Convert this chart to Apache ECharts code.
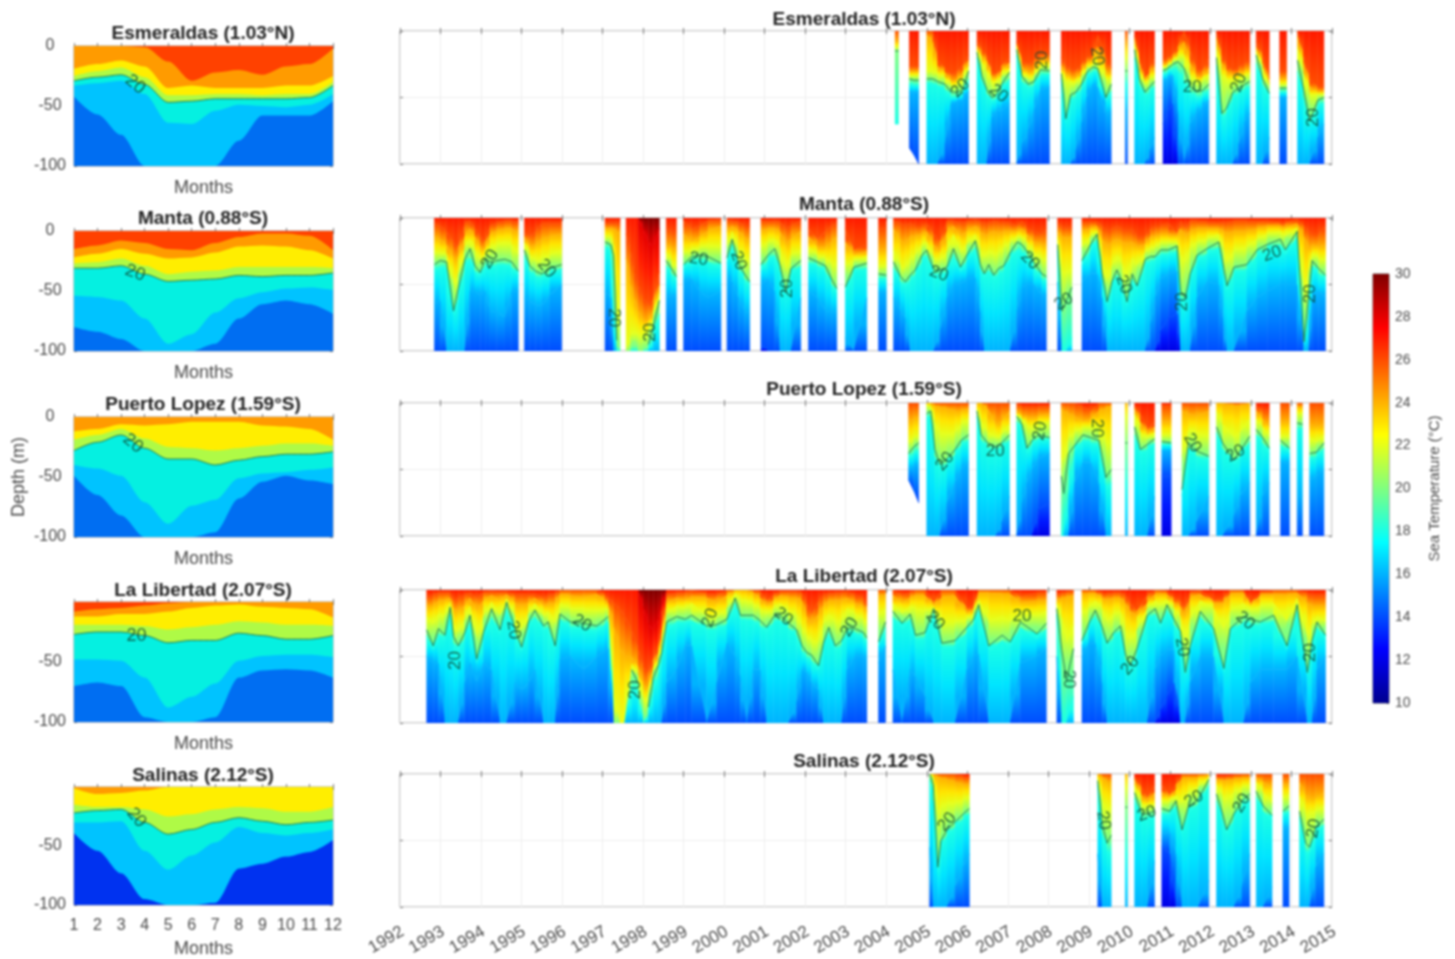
<!DOCTYPE html>
<html><head><meta charset="utf-8">
<style>html,body{margin:0;padding:0;background:#fff}#c{width:1455px;height:959px;filter:blur(0.8px)}</style>
<script src="https://cdn.jsdelivr.net/npm/echarts@6/dist/echarts.min.js"></script>
</head><body><div id="c"></div>
<script>
// Row layout: [time, d26, d24, d22, d20, d18, d16, d14?, d28?, lastDepth?] depths (m) of each isotherm. [time] alone = data gap.
const stationNames = ['Esmeraldas (1.03°N)','Manta (0.88°S)','Puerto Lopez (1.59°S)','La Libertad (2.07°S)','Salinas (2.12°S)'];
const yearTicks = [1992,2015];
const monthTicks = [1,12];
const depthTicks = [-100,0];
const colorbarTicks = [10,30];

const esmSection = [
[2004.22,0,8,12,15,70,70,100,0,70],[2004.30,0,8,12,15,70,70,100,0,70],[2004.4],
[2004.57,26,30,33,36,40,46,100,0,88],[2004.68,27,31,34,37,41,46,100,0,93],[2004.80,26,30,33,37,41,46],[2004.9],
[2005.00,0,3,30,36,39,100],[2005.15,0,8,30,36,40,100],[2005.27,22,27,32,38,41,100],[2005.45,28,31,35,40,44,85],[2005.6,33,38,41,46,50,55],[2005.75,30,37,41,46,50,53],[2005.9,26,31,36,44,47,52],[2006.03,18,22,26,30,36,45],[2006.1],
[2006.24,8,11,14,16,20,100],[2006.36,14,19,24,34,37,100],[2006.48,18,22,30,44,47,100],[2006.60,30,34,38,50,53,65],[2006.72,33,36,40,48,51,60],[2006.85,26,30,34,40,45,60],[2007.04,20,24,28,31,36,55],[2007.1],
[2007.22,8,10,12,14,18,100],[2007.35,22,27,31,34,38,85],[2007.5,25,32,36,40,44,75],[2007.65,22,30,34,38,41,60],[2007.8,16,22,26,29,33,45],[2008.03,18,23,26,30,33,42],[2008.2],
[2008.32,20,26,30,32,36,100],[2008.43,26,32,38,66,70,100],[2008.55,28,34,38,48,52,100],[2008.68,30,36,40,46,50,90],[2008.82,25,30,34,40,44,70],[2008.95,20,24,28,31,35,50],[2009.1,18,22,25,27,30,40],[2009.22,3,12,24,28,31,42],[2009.42,20,30,36,50,53,64],[2009.55,28,33,36,40,45,60],[2009.7],
[2009.90,0,10,20,30,40,60],[2009.95,0,10,20,30,40,60],[2010.0],
[2010.13,3,6,10,14,20,100],[2010.25,20,24,30,36,40,100],[2010.38,36,38,41,46,50,100],[2010.5,28,32,36,42,46,90],[2010.62,20,27,33,38,42,80],[2010.7],
[2010.83,22,26,28,30,33,38,70],[2010.95,20,24,26,28,31,36,60],[2011.07,18,21,23,25,28,33,55],[2011.2,12,16,19,23,30,60],[2011.35,0,8,18,28,38,100],[2011.5,14,24,33,42,46,70],[2011.65,28,34,38,45,50,62],[2011.8,30,35,38,45,50,58],[2011.96,20,28,32,40,44,52],[2012.05],
[2012.15,0,5,12,20,26,100],[2012.28,18,24,33,62,66,100],[2012.4,25,30,36,58,62,100],[2012.55,30,34,38,46,50,100],[2012.7,27,32,36,43,47,85],[2012.85,24,30,34,40,44,68],[2012.97,22,28,32,38,42,62],[2013.05],
[2013.13,8,12,15,18,24,100],[2013.29,18,24,28,36,40,100],[2013.45,36,40,43,47,50,80],[2013.6],
[2013.71,30,36,40,43,46,50],[2013.88,30,36,40,43,46,50],[2014.0],
[2014.15,0,4,12,22,30,100],[2014.3,18,24,32,44,50,100],[2014.45,36,42,48,68,72,100],[2014.65,42,46,48,52,56,80],[2014.8,42,45,47,50,54,70]
];
const mantaSection = [
[1992.85,4,14,26,35,40,65],[1992.99,6,16,26,32,37,62],[1993.15,10,20,27,33,38,100],[1993.32,18,30,50,70,74,100],[1993.44,22,30,44,53,60,100],[1993.6,4,14,22,31,38,100],[1993.73,2,8,16,23,30,55],[1993.85,8,14,24,36,40,55],[1993.98,14,22,32,41,44,58],[1994.1,18,24,28,31,36,55],[1994.22,6,12,22,33,37,70],[1994.39,4,10,20,32,36,70],[1994.59,2,8,18,31,35,75],[1994.76,2,8,20,33,37,55],[1994.92,4,12,28,40,43,55],[1995.0],
[1995.07,10,14,18,24,28,60],[1995.2,14,22,28,36,40,62],[1995.35,10,20,32,40,44,66],[1995.5,4,16,30,42,46,66],[1995.7,4,14,28,38,42,58],[1995.99,4,12,24,35,38,50],[1996.5],
[1997.06,4,8,14,18,22,55],[1997.2,4,8,14,20,24,60],[1997.27,4,8,20,28,70,100],[1997.35,4,10,60,92,100,100],[1997.43,4,12,80,100,100,100],[1997.5],
[1997.58,12,30,100,100,100,100],[1997.69,24,50,88,100,100,100],[1997.78,40,60,85,92,100,100],[1997.88,50,70,88,100,100,100],[1998.0,60,76,88,100,100,100,100,8],[1998.13,65,78,85,95,100,100,100,18],[1998.25,62,70,76,82,92,100,100,22],[1998.40,40,50,56,62,72,100,100,8],[1998.48],
[1998.57,8,20,26,32,36,60],[1998.7,10,22,32,38,42,58],[1998.82,10,24,38,44,48,60],[1998.9],
[1999.0,2,12,26,35,38,48],[1999.2,8,18,24,29,32,46],[1999.4,6,14,22,28,32,55],[1999.6,2,10,20,29,33,60],[1999.92,1,6,22,34,38,55],[2000.0],
[2000.07,2,10,22,30,34,45],[2000.2,2,6,10,16,20,48],[2000.35,3,10,24,34,38,60],[2000.5,6,14,28,42,46,70],[2000.63,6,18,34,48,52,72],[2000.8],
[2000.91,2,10,22,35,40,50,95],[2001.08,3,8,18,28,32,46],[2001.25,2,8,16,23,28,55],[2001.38,3,10,22,36,40,100],[2001.52,8,20,40,56,60,100],[2001.65,6,16,28,38,42,100],[2001.89,2,10,24,32,36,60],[2002.0],
[2002.08,8,14,22,30,34,55],[2002.3,16,22,28,33,36,60],[2002.5,10,22,30,36,40,70],[2002.65,6,18,34,46,50,70],[2002.78,4,14,36,53,57,72],[2002.9],
[2002.99,8,18,36,52,56,90],[2003.2,24,28,32,37,40,100],[2003.52,20,25,29,34,38,60],[2003.65],
[2003.81,8,24,36,42,46,56],[2004.0,8,24,36,43,46,56],[2004.08],
[2004.18,2,8,24,33,37,60],[2004.35,4,16,36,44,48,70],[2004.47,6,20,38,48,52,75],[2004.59,4,14,30,43,47,100],[2004.72,6,14,28,39,43,100],[2004.88,6,12,20,28,33,100],[2005.0,4,10,18,24,28,100],[2005.17,12,20,30,39,43,100],[2005.33,18,26,32,39,43,85],[2005.5,2,10,26,37,41,60],[2005.66,2,6,12,23,27,50],[2005.83,4,14,26,37,41,50],[2005.99,3,10,20,28,32,46],[2006.2,1,6,12,17,22,45],[2006.32,3,10,24,35,38,70],[2006.42,4,14,30,42,46,100],[2006.53,4,12,24,35,39,100],[2006.65,2,10,28,43,47,100],[2006.77,3,12,26,38,42,100],[2006.9,3,10,22,36,40,100],[2007.06,4,10,18,26,30,100],[2007.23,6,10,14,18,24,70],[2007.35,2,8,14,20,26,52],[2007.47,8,12,18,25,28,50],[2007.64,10,18,26,33,37,50],[2007.84,12,20,30,42,46,58],[2007.95,8,20,32,44,48,58],[2008.1],
[2008.23,4,10,14,20,24,48],[2008.33,6,14,40,70,100,100],[2008.45,8,16,42,62,100,100],[2008.58,6,14,38,52,90,100],[2008.7],
[2008.83,3,10,22,32,36,48],[2009.04,3,8,14,20,24,42],[2009.2,3,6,9,12,16,42],[2009.33,6,16,34,42,46,60],[2009.45,10,22,48,63,67,100],[2009.57,8,18,36,48,52,100],[2009.69,6,16,28,39,43,100],[2009.82,8,18,34,48,52,100],[2009.94,10,20,46,63,67,100],[2010.07,8,18,30,42,46,100],[2010.19,14,22,36,51,55,100],[2010.39,14,20,26,31,35,100],[2010.52,8,14,22,29,33,80],[2010.64,6,14,22,29,32,60],[2010.77,6,12,18,24,27,46,85],[2010.97,4,12,18,24,28,42,75],[2011.18,12,14,18,21,25,40,72],[2011.26,2,8,28,55,60,100],[2011.38,8,14,34,60,64,100],[2011.5,2,10,22,42,46,100],[2011.67,2,8,18,28,32,60],[2011.92,3,8,16,23,27,48],[2012.21,4,8,12,18,22,50],[2012.33,3,10,24,38,42,80],[2012.41,4,12,34,51,55,100],[2012.58,2,10,24,37,41,100],[2012.9,2,10,22,35,39,70],[2013.15,3,8,16,24,28,60],[2013.4,2,6,12,20,24,55],[2013.73,4,6,10,16,20,50],[2013.85,4,8,14,24,28,50],[2014.14,1,4,7,10,14,50],[2014.31,6,14,60,93,100,100],[2014.43,10,24,40,56,70,100],[2014.51,12,20,26,32,36,60],[2014.67,12,22,30,38,42,55],[2014.84,6,20,32,43,47,60]
];
const lopezSection = [
[2004.55,0,14,30,38,42,50,100,0,58],[2004.68,0,12,26,33,38,48,100,0,66],[2004.80,0,10,24,30,36,46,100,0,75],[2004.9],
[2005.0,0,0,2,8,12,100],[2005.1,0,0,2,6,10,100],[2005.2,0,2,15,35,40,100],[2005.32,0,3,22,46,50,100],[2005.5,0,4,24,42,46,75],[2005.7,0,6,22,35,39,60],[2005.85,0,6,16,28,32,50],[2006.03,0,4,12,24,28,45],[2006.1],
[2006.24,0,0,4,6,10,100],[2006.34,0,0,14,24,28,100],[2006.5,0,4,22,30,34,100],[2006.7,0,16,26,33,36,100],[2006.85,0,14,24,30,34,90],[2007.04,0,6,16,24,28,70],[2007.1],
[2007.22,0,5,8,10,14,100],[2007.35,3,10,12,16,20,75],[2007.47,3,10,16,34,38,60],[2007.6,3,12,20,28,31,50],[2007.75,3,10,16,24,27,42,80],[2008.03,2,8,14,26,28,38,75],[2008.2],
[2008.32,0,4,40,55,100,100],[2008.38,0,6,44,68,100,100],[2008.5,0,8,26,38,70,100],[2008.65,0,10,22,32,36,60],[2008.85,3,14,18,24,28,45],[2009.05,6,12,18,26,30,45],[2009.25,0,6,18,28,32,60],[2009.42,0,4,30,56,65,100],[2009.55,0,2,30,50,60,100],[2009.7],
[2009.90,0,0,10,30,60,100],[2009.95,0,0,10,30,60,100],[2010.0],
[2010.13,2,4,8,18,24,100],[2010.27,8,14,22,35,38,100],[2010.45,20,24,27,31,35,100],[2010.62,14,18,22,27,30,70],[2010.7],
[2010.8,2,14,24,29,31,36,55],[2011.03,2,14,24,30,32,36,55],[2011.15],
[2011.3,0,6,40,65,70,100],[2011.46,0,8,20,30,34,100],[2011.65,0,10,22,36,40,90],[2011.96,0,6,26,40,44,70],[2012.05],
[2012.15,0,0,6,18,22,100],[2012.3,0,0,16,30,34,100],[2012.58,0,2,26,43,46,85],[2012.74,0,2,22,36,40,70],[2012.97,0,0,12,25,29,60],[2013.05],
[2013.13,3,6,12,20,24,100],[2013.29,5,12,18,26,30,70],[2013.45,6,18,26,34,38,60],[2013.6],
[2013.73,0,14,24,28,31,44],[2013.95,0,14,26,34,38,46],[2014.05],
[2014.14,0,3,8,15,20,70],[2014.27,0,3,8,16,20,70],[2014.35],
[2014.45,0,16,26,38,42,58],[2014.62,0,18,30,37,41,55],[2014.8,0,16,24,30,34,50]
];
const libertadSection = [
[1992.66,6,12,20,30,34,50],[1992.82,4,12,26,42,46,55],[1992.95,2,8,18,29,33,55],[1993.11,2,8,20,34,38,100],[1993.24,2,6,9,13,18,100],[1993.32,8,14,26,35,40,100],[1993.44,6,16,32,42,46,100],[1993.6,4,12,22,32,36,70],[1993.73,2,6,12,19,24,55],[1993.89,6,16,36,52,56,70],[1994.06,2,8,20,32,36,55],[1994.26,1,4,9,14,20,60],[1994.47,2,8,20,30,34,100],[1994.63,1,3,6,9,14,100],[1994.84,4,10,20,29,33,70],[1995.0,3,12,30,43,47,75],[1995.17,4,10,18,24,28,70],[1995.33,3,6,10,15,20,60],[1995.54,6,12,20,27,31,100],[1995.66,4,10,16,24,28,100],[1995.83,3,10,26,42,46,100],[1995.95,0,3,10,18,22,52],[1996.2,0,4,14,24,28,50],[1996.53,0,6,14,25,29,60],[1996.86,0,3,16,27,31,50],[1997.06,4,8,14,22,26,46],[1997.14,6,10,14,20,24,44],[1997.28,10,28,80,100,100,100],[1997.43,14,44,100,100,100,100],[1997.55,20,50,100,100,100,100],[1997.72,30,50,56,60,72,100],[1997.88,44,58,64,70,80,100],[1998.01,58,72,85,100,100,100,100,14],[1998.13,62,74,80,88,95,100,100,26],[1998.25,52,58,62,66,75,100,100,30],[1998.38,42,47,52,56,64,100,100,22],[1998.46,30,36,42,47,52,100,100,14],[1998.58,4,10,18,24,30,70],[1998.83,2,6,12,20,24,60],[1999.04,2,8,14,22,25,42],[1999.2,0,5,10,19,23,42],[1999.57,3,6,20,27,30,100],[1999.82,4,10,20,26,30,70],[2000.07,0,4,14,22,26,40],[2000.27,0,0,2,6,10,50],[2000.4,0,0,8,19,22,65],[2000.56,0,0,8,19,23,100],[2000.72,0,2,10,19,23,60],[2000.89,1,6,14,23,27,60],[2001.05,8,12,18,28,32,100],[2001.22,4,8,14,20,24,100],[2001.38,1,4,10,19,23,100],[2001.59,1,6,16,25,29,100],[2001.79,1,6,18,30,34,85],[2001.92,2,8,28,42,46,60],[2002.04,10,20,34,47,51,62],[2002.16,18,26,38,49,53,70],[2002.33,8,18,40,57,61,75],[2002.45,4,12,26,40,44,100],[2002.58,3,8,18,28,32,100],[2002.74,2,8,24,42,46,100],[2002.9,2,8,24,38,42,100],[2003.03,1,6,14,29,32,60],[2003.23,4,10,18,29,32,50],[2003.44,6,12,22,32,36,50],[2003.52,12,16,26,36,40,52],[2003.65],
[2003.81,0,4,20,39,43,55],[2003.98,0,4,14,24,28,42],[2004.08],
[2004.165,0,4,10,16,20,60],[2004.39,4,10,18,25,29,100],[2004.59,2,6,12,18,22,60],[2004.72,0,4,14,34,38,65],[2004.96,0,4,16,32,36,80],[2005.17,10,12,13,14,18,100],[2005.37,0,6,24,40,44,100],[2005.7,0,4,24,38,42,100],[2005.99,14,18,22,28,32,60],[2006.16,12,14,18,22,26,50],[2006.28,0,2,7,11,15,48],[2006.53,0,2,24,42,46,100],[2006.86,0,3,20,34,38,100],[2007.06,0,3,24,39,43,100],[2007.31,5,10,16,24,28,55],[2007.72,2,8,20,33,37,50],[2007.95,2,8,16,25,29,44],[2008.1],
[2008.21,4,8,10,14,18,50],[2008.33,2,6,20,45,100,100],[2008.45,2,6,40,68,100,100],[2008.62,0,4,26,44,80,100],[2008.72],
[2008.83,0,3,18,38,42,50],[2009.0,0,3,14,25,28,40],[2009.16,0,2,8,15,19,40],[2009.33,3,6,14,28,32,70],[2009.45,3,8,24,40,44,100],[2009.61,2,6,18,32,36,100],[2009.78,2,6,16,27,31,100],[2009.9,4,10,30,48,52,100],[2010.02,10,16,38,57,61,100],[2010.19,16,20,30,44,48,100],[2010.44,4,10,14,19,23,100],[2010.64,0,3,8,14,18,60],[2010.77,0,3,12,25,29,50,90],[2010.93,1,3,7,11,15,45,80],[2011.1,6,10,14,22,26,45,70],[2011.26,8,12,20,31,35,100],[2011.38,14,22,40,62,66,100],[2011.5,2,6,22,42,46,70],[2011.75,0,3,8,16,20,50],[2012.08,8,10,14,29,33,50],[2012.33,6,10,30,59,63,100],[2012.49,0,3,16,29,33,100],[2012.82,0,2,10,20,24,100],[2012.99,10,12,16,22,26,70],[2013.23,2,4,12,24,28,60],[2013.56,0,3,10,19,23,60],[2013.89,0,4,24,42,46,60],[2014.14,0,2,6,11,16,50],[2014.39,3,10,36,62,66,100],[2014.51,4,12,26,38,42,100],[2014.63,4,12,20,24,28,60],[2014.84,4,12,24,34,38,50]
];
const salinasSection = [
[2005.07,0,0,0,0,4,55],[2005.16,0,0,2,8,20,100],[2005.27,0,2,30,70,76,100],[2005.35,0,3,25,50,56,100],[2005.5,0,4,22,42,46,100],[2005.7,0,6,22,36,40,85],[2005.9,2,8,20,30,34,70],[2006.05,3,8,16,26,30,60],[2007.5],
[2009.22,0,0,2,5,8,60],[2009.33,0,2,20,38,44,100],[2009.45,0,6,28,52,58,100],[2009.55,0,6,24,46,60,100],[2009.7],
[2009.90,0,0,10,25,60,100],[2009.95,0,0,10,25,60,100],[2010.0],
[2010.13,2,4,8,14,18,100],[2010.3,10,16,22,30,34,100],[2010.45,18,22,26,30,34,100],[2010.62,8,14,22,28,32,65],[2010.7],
[2010.8,8,14,20,26,30,45,55],[2011.0,16,18,21,28,31,44,60],[2011.15,8,12,16,20,24,60],[2011.3,0,3,22,42,46,100],[2011.45,0,3,14,25,29,100],[2011.7,0,3,10,19,23,100],[2011.96,0,0,2,4,8,80],[2012.05],
[2012.15,2,4,8,15,20,100],[2012.3,2,5,16,30,34,100],[2012.4,2,5,20,42,46,100],[2012.58,1,4,14,30,34,100],[2012.78,0,3,10,20,24,85],[2012.97,0,3,8,15,20,60],[2013.05],
[2013.13,0,3,6,13,17,100],[2013.3,0,6,14,24,28,100],[2013.52,0,10,22,31,35,85],[2013.65],
[2013.79,0,8,18,28,31,42],[2013.94,0,8,16,24,28,40],[2014.05],
[2014.2,0,6,16,28,32,100],[2014.35,0,16,30,52,58,100],[2014.45,0,18,30,55,60,100],[2014.6,0,18,28,40,44,70],[2014.8,0,14,24,34,38,60]
];

const esmClim = [[1,0,19,25,29,33,42],[2,0,15,21,26,31,57],[3,0,12,18,24,29,74],[4,1,17,26,32,40,100],[5,13,35,41,47,64,100],[6,29,33,41,46,65,100],[7,22,35,40,44,54,100],[8,20,35,40,44,49,79],[9,24,35,41,44,50,58],[10,17,33,40,44,51,58],[11,15,33,40,43,49,58],[12,2,25,30,33,40,46]];
const mantaClim = [[1,15,22,27,31,54,80],[2,12,19,26,31,55,84],[3,8,15,23,29,58,90],[4,10,19,29,36,73,100],[5,15,23,36,42,94,100],[6,16,22,34,41,86,100],[7,10,18,33,40,68,94],[8,5,13,30,37,56,73],[9,2,12,30,38,51,61],[10,2,13,30,37,48,58],[11,4,16,30,37,47,61],[12,16,23,31,35,49,69]];
const lopezClim = [[1,0,12,19,28,40,49],[2,0,10,15,21,43,65],[3,0,6,10,15,49,82],[4,0,7,18,26,71,100],[5,0,6,25,35,89,100],[6,0,4,26,35,74,100],[7,0,4,28,40,69,96],[8,0,4,26,36,51,68],[9,0,7,24,33,47,54],[10,0,8,22,31,46,49],[11,0,10,22,31,44,53],[12,0,19,24,29,42,56]];
const libertadClim = [[1,8,12,19,27,48,70],[2,6,12,19,25,48,67],[3,5,10,19,25,49,70],[4,3,10,20,28,63,96],[5,1,8,23,34,88,100],[6,0,5,21,32,79,100],[7,0,3,19,32,68,96],[8,0,2,16,26,49,63],[9,0,4,17,28,45,57],[10,0,5,19,31,44,56],[11,0,6,19,31,44,57],[12,0,13,20,28,46,63]];
const salinasClim = [[1,0,1,15,22,30,39,39],[2,0,6,17,20,30,54,54],[3,0,5,17,19,29,73,73],[4,0,3,19,30,54,95,95],[5,0,0,25,40,70,100,100],[6,0,0,23,36,58,100,100],[7,0,0,19,30,47,98,98],[8,0,0,17,26,34,69,69],[9,0,0,18,29,39,65,65],[10,0,0,21,32,41,59,59],[11,0,0,21,30,39,55,55],[12,0,0,17,28,36,45,45]];

// Contour label spots: [x, depth, text rotation]
const esmLabels = [[2005.83,43,45],[2006.77,47,-40],[2007.84,22,90],[2009.2,19,-80],[2011.55,42,0],[2012.7,39,70],[2014.55,65,90]];
const mantaLabels = [[1994.22,31,60],[1995.62,38,-50],[1997.27,75,-90],[1998.17,86,90],[1999.37,31,-10],[2000.35,32,-70],[2001.55,53,90],[2005.3,42,-20],[2007.55,32,-45],[2008.38,63,30],[2009.86,50,-70],[2011.3,63,90],[2013.52,27,20],[2014.47,57,90]];
const lopezLabels = [[2005.45,44,50],[2006.69,36,0],[2007.8,21,80],[2009.2,19,-90],[2011.55,30,-60],[2012.62,38,30]];
const libertadLabels = [[1993.36,53,90],[1994.8,30,-80],[1996.49,25,-30],[1997.8,75,90],[1999.65,21,70],[2001.46,20,-40],[2003.1,28,60],[2005.21,23,-50],[2007.35,20,0],[2008.5,67,-90],[2010.02,57,50],[2011.3,43,-80],[2012.86,23,-40],[2014.47,47,90]];
const salinasLabels = [[2005.5,36,50],[2009.36,35,-80],[2010.43,30,20],[2011.59,19,30],[2012.78,22,60],[2014.55,41,80]];
const climLabels = [[3.6,32,-40],[3.6,35,-20],[3.5,22,-40],[3.65,28,0],[3.65,26,-50]];

const sections = [esmSection,mantaSection,lopezSection,libertadSection,salinasSection];
const climates = [esmClim,mantaClim,lopezClim,libertadClim,salinasClim];
const sectionLabels = [esmLabels,mantaLabels,lopezLabels,libertadLabels,salinasLabels];

const FONT='"Liberation Sans",Arial,sans-serif', TXT='#4a4a4a';
const leftTops=[46,231,417,602,787], leftH=120;
const rightTops=[31,218,403,590,774], rightH=133;
const leftTitleY=[33,218,404,590,775], rightTitleY=[19,204,389,576,761];

// jet colour of a temperature on the 10..30 colour bar
function jet(T){const t=(T-10)/20;const c=v=>Math.round(255*Math.max(0,Math.min(1,v)));
  return `rgb(${c(Math.min(4*t-1.5,4.5-4*t))},${c(Math.min(4*t-0.5,3.5-4*t))},${c(Math.min(4*t+0.5,2.5-4*t))})`;}

// left panels: flat contour bands, painted coldest first, each filled from its isotherm up to the surface
const layers=[[-1,100,'rgb(0,50,240)'],[7,100,'rgb(0,110,242)'],[6,100,'rgb(0,195,255)'],[5,100,'rgb(5,240,225)'],[4,100,'rgb(175,250,70)'],[3,100,'rgb(255,238,0)'],[2,100,'rgb(255,155,0)'],[1,100,'rgb(255,65,0)'],[8,0,'rgb(185,0,0)']];
function layerData(rows,l){return rows.map(r=>{
  if(r.length===1) return [r[0],null];
  const last=r[9]===undefined?100:r[9];
  const v=l[0]<0?last:(r[l[0]]===undefined?l[1]:r[l[0]]);
  return [r[0],-Math.min(v,last)];
});}
function contourData(rows){return rows.map(r=>{
  if(r.length===1) return [r[0],null];
  const last=r[9]===undefined?100:r[9];
  return [r[0],r[4]>=last?null:-r[4]];
});}
// right panels: the depths of one column, surface to last depth, warm to cold
const chainTemps=[30,28,26,24,22,20,18,16,14,12];
function chain(r){const last=r[9]===undefined?100:r[9];
  const raw=[0,r[8]||0,r[1],r[2],r[3],r[4],r[5],r[6],r[7]===undefined?100:r[7],last];
  let prev=0;return raw.map(d=>{prev=Math.max(prev,Math.min(d,last));return prev;});}
function quadData(rows){const out=[];
  for(let i=0;i+1<rows.length;i++){
    if(rows[i].length===1||rows[i+1].length===1) continue;
    const a=chain(rows[i]),b=chain(rows[i+1]);
    for(let k=0;k+1<a.length;k++){
      if(a[k]===a[k+1]&&b[k]===b[k+1]) continue;
      // surface below the 28 degree isotherm stays near 27 degrees
      const upper=(k===1&&a[1]===0&&b[1]===0)?27:chainTemps[k];
      out.push([rows[i][0],rows[i+1][0],a[k],b[k],a[k+1],b[k+1],upper,chainTemps[k+1]]);
    }
  }
  return out;}
function renderQuad(p,api){
  const v=i=>api.value(i);
  const A=api.coord([v(0),-v(2)]),B=api.coord([v(1),-v(3)]),C=api.coord([v(1),-v(5)]),D=api.coord([v(0),-v(4)]);
  const y1=(A[1]+B[1])/2,y2=(C[1]+D[1])/2,x=(A[0]+B[0])/2,Tu=v(6),Tl=v(7);
  const g=new echarts.graphic.LinearGradient(x,y1,x,Math.max(y2,y1+0.5),[{offset:0,color:jet(Tu)},{offset:0.5,color:jet((Tu+Tl)/2)},{offset:1,color:jet(Tl)}],true);
  return {type:'polygon',shape:{points:[A,B,C,D]},style:{fill:g,stroke:g,lineWidth:0.6}};
}

const grids=[],xAxes=[],yAxes=[],series=[],titles=[];
function axisX(g,min,max,opts){return Object.assign({type:'value',gridIndex:g,min,max,interval:1,
  axisLine:{show:false},axisTick:{show:true,inside:true,length:3,lineStyle:{color:'#777'}},axisLabel:{show:false},splitLine:{show:false}},opts||{});}
function axisY(g,opts){return Object.assign({type:'value',gridIndex:g,min:depthTicks[0],max:depthTicks[1],interval:50,
  axisLine:{show:false},axisTick:{show:true,inside:true,length:3,lineStyle:{color:'#777'}},axisLabel:{show:false},splitLine:{show:false}},opts||{});}
function addPanel(rows,labels,left,top,w,h,xr,useQuads,smooth,labelSize,xOpts,yOpts){
  const g=grids.length;
  grids.push({left,top,width:w,height:h,show:true,borderColor:'#9a9a9a',borderWidth:1,backgroundColor:'transparent'});
  const xi=xAxes.length, yi=yAxes.length;
  xAxes.push(axisX(g,xr[0],xr[1],xOpts)); xAxes.push(axisX(g,xr[0],xr[1],{position:'top'}));
  yAxes.push(axisY(g,yOpts)); yAxes.push(axisY(g,{position:'right'}));
  if(useQuads){
    series.push({type:'custom',xAxisIndex:xi,yAxisIndex:yi,data:quadData(rows),renderItem:renderQuad,silent:true,clip:true,progressive:0,z:2,
      encode:{x:[0,1],y:[2,3,4,5]}});
  } else {
    layers.forEach(l=>series.push({type:'line',xAxisIndex:xi,yAxisIndex:yi,data:layerData(rows,l),showSymbol:false,silent:true,
      smooth,smoothMonotone:'x',lineStyle:{width:0},itemStyle:{color:l[2]},areaStyle:{color:l[2],opacity:1,origin:'end'},z:2}));
  }
  series.push({type:'line',xAxisIndex:xi,yAxisIndex:yi,data:contourData(rows),showSymbol:false,silent:true,smooth,smoothMonotone:'x',
    lineStyle:{width:1,color:'#257a55'},z:3});
  series.push({type:'scatter',xAxisIndex:xi,yAxisIndex:yi,symbolSize:1,silent:true,itemStyle:{color:'rgba(0,0,0,0)'},z:4,
    data:labels.map(p=>({value:[p[0],-p[1]],label:{show:true,position:'inside',formatter:'20',rotate:p[2],fontFamily:FONT,fontSize:labelSize,color:'#0d4630'}}))});
}
const yLabelOpts=i=>({axisLabel:{show:true,align:'center',margin:24,padding:[2,0,0,0],fontFamily:FONT,fontSize:16,color:TXT,
    formatter:v=>(i>=3&&v===0)?'':String(v)},
    ...(i===2?{name:'Depth (m)',nameLocation:'middle',nameGap:46,nameRotate:90,nameTextStyle:{fontFamily:FONT,fontSize:18,color:TXT}}:{})});
stationNames.forEach((n,i)=>{
  const ts={fontFamily:FONT,fontWeight:'bold',fontSize:19,color:'#222'};
  titles.push({text:n,left:203,top:leftTitleY[i]-9,padding:0,textAlign:'center',textStyle:ts});
  titles.push({text:n,left:864,top:rightTitleY[i]-9,padding:0,textAlign:'center',textStyle:ts});
  const lx={name:'Months',nameLocation:'middle',nameGap:i===4?35:13,nameTextStyle:{fontFamily:FONT,fontSize:18,color:TXT},
    axisLabel:i===4?{show:true,margin:13,fontFamily:FONT,fontSize:16,color:TXT,formatter:v=>String(v)}:{show:false}};
  addPanel(climates[i],[climLabels[i]],74,leftTops[i],259,leftH,monthTicks,false,0.3,18,lx,yLabelOpts(i));
  const rx={splitLine:{show:true,lineStyle:{color:'#eeeeee',width:1}},
    axisLabel:i===4?{show:true,rotate:30,margin:25,padding:[0,-3,0,0],fontFamily:FONT,fontSize:17,color:TXT,formatter:v=>String(v)}:{show:false}};
  addPanel(sections[i],sectionLabels[i],400,rightTops[i],932,rightH,yearTicks,true,0,17,rx,{splitLine:{show:true,lineStyle:{color:'#eeeeee',width:1}}});
});
// Colour bar
const cg=grids.length;
grids.push({left:1373,top:274,width:16,height:429,show:true,borderColor:'#666',borderWidth:1});
xAxes.push({type:'category',gridIndex:cg,data:[''],show:false});
yAxes.push({type:'value',gridIndex:cg,min:colorbarTicks[0],max:colorbarTicks[1],interval:2,position:'right',
  axisLine:{show:false},axisTick:{show:true,inside:true,length:2,lineStyle:{color:'#555'}},splitLine:{show:false},
  axisLabel:{margin:6,fontFamily:FONT,fontSize:14,color:TXT},
  name:'Sea Temperature (°C)',nameLocation:'middle',nameGap:38,nameRotate:90,nameTextStyle:{fontFamily:FONT,fontSize:15,color:TXT}});
series.push({type:'bar',xAxisIndex:xAxes.length-1,yAxisIndex:yAxes.length-1,data:[colorbarTicks[1]],barWidth:'100%',silent:true,
  itemStyle:{color:new echarts.graphic.LinearGradient(0,0,0,1,[
    {offset:0,color:'#800000'},{offset:0.125,color:'#ff0000'},{offset:0.375,color:'#ffff00'},{offset:0.625,color:'#00ffff'},{offset:0.875,color:'#0000ff'},{offset:1,color:'#00008f'}])}});

const chart=echarts.init(document.getElementById('c'),null,{renderer:'canvas'});
chart.setOption({animation:false,backgroundColor:'#fff',title:titles,grid:grids,xAxis:xAxes,yAxis:yAxes,series,tooltip:{show:false}});
</script></body></html>
